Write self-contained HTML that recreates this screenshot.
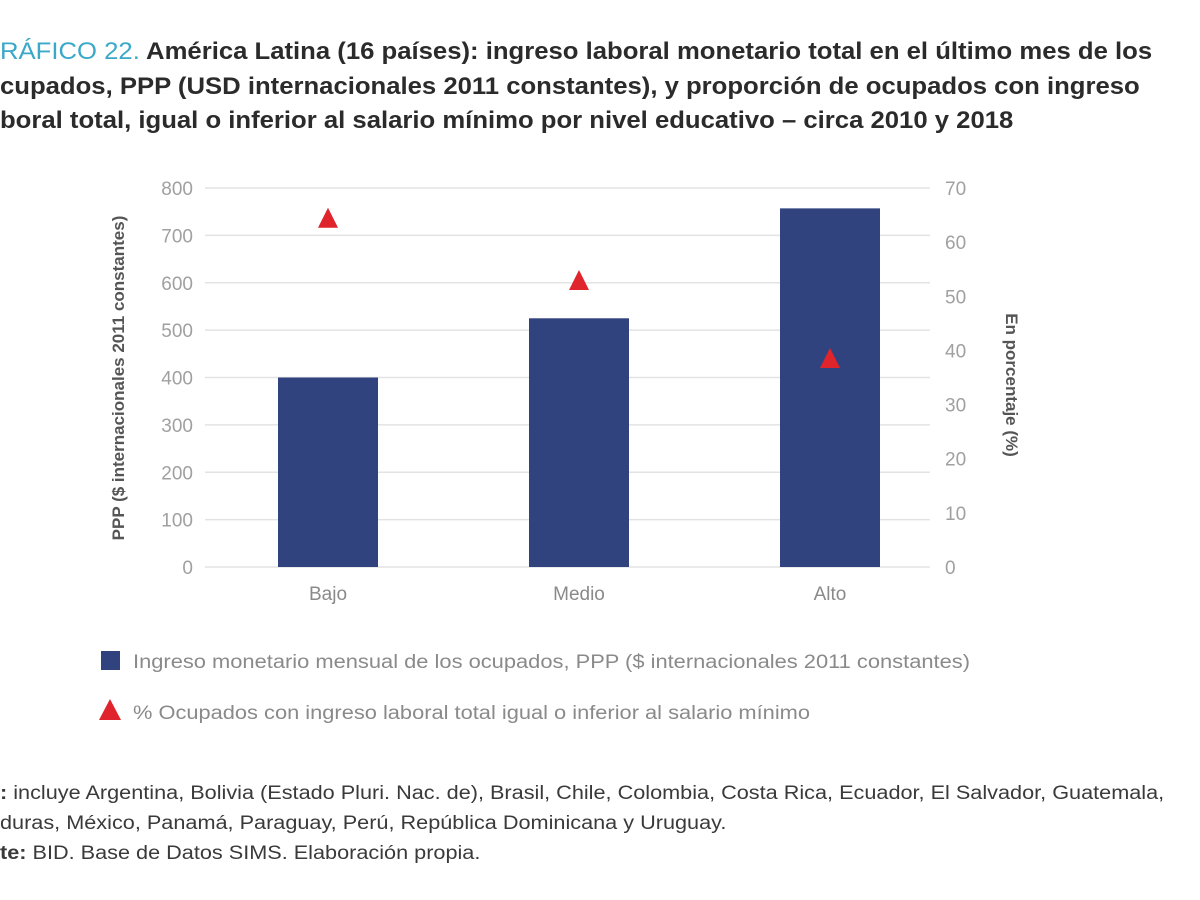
<!DOCTYPE html>
<html><head><meta charset="utf-8">
<style>
body{margin:0;width:1200px;height:900px;background:#fff;overflow:hidden;position:relative;font-family:"Liberation Sans",sans-serif}
.t{position:absolute;left:0;font-family:"Liberation Sans Narrow","Liberation Sans",sans-serif;font-weight:bold;font-size:24px;color:#2b2b2b;white-space:nowrap;transform:scaleX(1.07);transform-origin:left}
.n{position:absolute;left:0;font-size:19px;color:#3a3a3a;white-space:nowrap;transform:scaleX(1.14);transform-origin:left}
</style></head><body>
<div class="t" style="top:38px"><span style="color:#3aa8c8;font-weight:normal">RÁFICO 22.</span> América Latina (16 países): ingreso laboral monetario total en el último mes de los</div>
<div class="t" style="top:73px">cupados, PPP (USD internacionales 2011 constantes), y proporción de ocupados con ingreso</div>
<div class="t" style="top:107px">boral total, igual o inferior al salario mínimo por nivel educativo – circa 2010 y 2018</div>
<svg id="c" width="1200" height="900" style="position:absolute;left:0;top:0"></svg>
<div class="n" style="top:783px"><b>:</b> incluye Argentina, Bolivia (Estado Pluri. Nac. de), Brasil, Chile, Colombia, Costa Rica, Ecuador, El Salvador, Guatemala,</div>
<div class="n" style="top:813px">duras, México, Panamá, Paraguay, Perú, República Dominicana y Uruguay.</div>
<div class="n" style="top:843px"><b>te:</b> BID. Base de Datos SIMS. Elaboración propia.</div>
<script>
const categories=["Bajo","Medio","Alto"];
const incomeValues=[400,525,757];
const pctValues=[64.5,53,38.6];
const leftTicks=[0,100,200,300,400,500,600,700,800];
const rightTicks=[0,10,20,30,40,50,60,70];
const svg=document.getElementById('c');
const NS='http://www.w3.org/2000/svg';
const x0=205,x1=930,yTop=188,yBot=567;
const yL=v=>yBot-(v/800)*(yBot-yTop);
const yR=v=>yBot-(v/70)*(yBot-yTop);
const xC=i=>328+251*i;
function mk(t,a,txt){const e=document.createElementNS(NS,t);for(const k in a)e.setAttribute(k,a[k]);if(txt!==undefined)e.textContent=txt;svg.appendChild(e);return e;}
leftTicks.forEach(v=>{
 const g=mk('line',{x1:x0,x2:x1,y1:yL(v),y2:yL(v),stroke:'#e3e3e3','stroke-width':1.5});
 
 
 const t=mk('text',{x:193,y:yL(v)+7,'text-anchor':'end','font-size':19,fill:'#a0a0a0'},v);
 
 
});
rightTicks.forEach(v=>{
 const t=mk('text',{x:945,y:yR(v)+7,'font-size':19,fill:'#a0a0a0'},v);
 
 
});
categories.forEach((c,i)=>{
 const b=mk('rect',{x:xC(i)-50,y:yL(incomeValues[i]),width:100,height:yBot-yL(incomeValues[i]),fill:'#30437e'});
 
 
 const y=yR(pctValues[i]),x=xC(i);
 const p=mk('polygon',{points:`${x-10},${y+10} ${x+10},${y+10} ${x},${y-10}`,fill:'#e0242b'});
 
 
 const l=mk('text',{x:x,y:600,'text-anchor':'middle','font-size':19,fill:'#8a8a8a'},c);
 
 
});
const yt=mk('text',{transform:'translate(124,378) rotate(-90)','text-anchor':'middle','font-size':17,fill:'#555','font-weight':'bold'},'PPP ($ internacionales 2011 constantes)');


const yt2=mk('text',{transform:'translate(1006,385) rotate(90)','text-anchor':'middle','font-size':17,fill:'#555','font-weight':'bold'},'En porcentaje (%)');


const ls=mk('rect',{x:101,y:651,width:19,height:19,fill:'#30437e'});


const lt=mk('text',{x:133,y:668,'font-size':19,fill:'#8a8a8a',textLength:837,lengthAdjust:'spacingAndGlyphs'},'Ingreso monetario mensual de los ocupados, PPP ($ internacionales 2011 constantes)');


const lm=mk('polygon',{points:'99,720 121,720 110,699',fill:'#e0242b'});


const lt2=mk('text',{x:133,y:719,'font-size':19,fill:'#8a8a8a',textLength:677,lengthAdjust:'spacingAndGlyphs'},'% Ocupados con ingreso laboral total igual o inferior al salario mínimo');


</script>
</body></html>
